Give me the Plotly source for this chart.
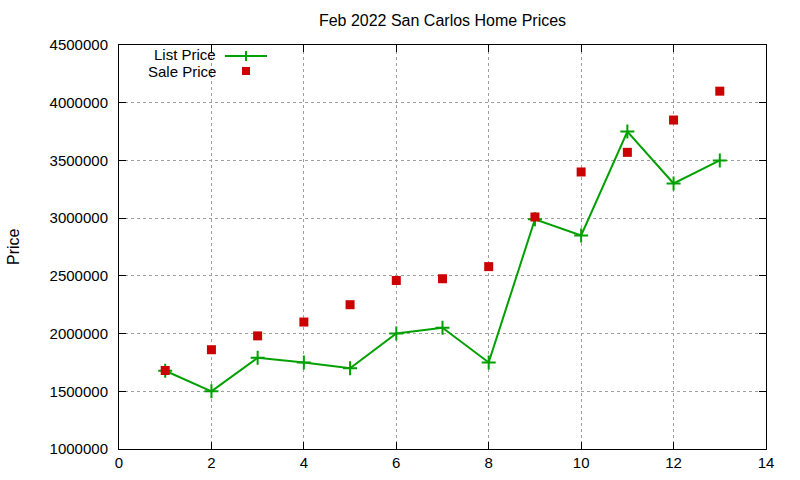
import plotly.graph_objects as go

x_vals = [1, 2, 3, 4, 5, 6, 7, 8, 9, 10, 11, 12, 13]
list_price = [1678000, 1500000, 1790000, 1750000, 1700000, 2000000, 2050000,
              1750000, 2990000, 2850000, 3750000, 3300000, 3500000]
sale_price = [1680000, 1860000, 1980000, 2100000, 2250000, 2460000, 2475000,
              2580000, 3010000, 3400000, 3570000, 3850000, 4100000]
series_names = ["List Price", "Sale Price"]

GREEN = "#00a000"
RED = "#cc0000"
FONT = "Liberation Sans, Arial, sans-serif"

L, R, T, B = 119, 766, 45, 449
PW, PH = R - L, B - T


def px(xp):
    return (xp - L) / PW


def py(yp):
    return (B - yp) / PH


fig = go.Figure()
fig.add_trace(go.Scatter(
    x=x_vals, y=list_price, mode="lines+markers", name=series_names[0],
    line=dict(color=GREEN, width=2),
    marker=dict(symbol="cross-thin", size=10, line=dict(color=GREEN, width=2)),
    showlegend=False))
fig.add_trace(go.Scatter(
    x=x_vals, y=sale_price, mode="markers", name=series_names[1],
    marker=dict(symbol="square", size=9, color=RED),
    showlegend=False))

axis_common = dict(
    showline=True, linecolor="black", linewidth=1, mirror="ticks",
    ticks="inside", ticklen=7, tickcolor="black", automargin=False,
    showgrid=True, gridcolor="#a0a0a0", griddash="dot", gridwidth=1,
    zeroline=False, tickfont=dict(family=FONT, size=15, color="black"),
)
fig.update_xaxes(range=[0, 14], dtick=2, tick0=0, **axis_common)
fig.update_yaxes(range=[1000000, 4500000], dtick=500000, tick0=1000000,
                 tickformat="d", ticklabelstandoff=7, **axis_common)

# gnuplot-style legend: text right-aligned, then sample
shapes = [
    dict(type="line", xref="paper", yref="paper", x0=px(225), x1=px(267),
         y0=py(56), y1=py(56), line=dict(color=GREEN, width=2)),
    dict(type="line", xref="paper", yref="paper", x0=px(246), x1=px(246),
         y0=py(61), y1=py(51), line=dict(color=GREEN, width=2)),
    dict(type="rect", xref="paper", yref="paper", x0=px(242), x1=px(250),
         y0=py(75), y1=py(67), line=dict(width=0), fillcolor=RED),
]
annotations = [
    dict(text=series_names[0], xref="paper", yref="paper", x=px(217),
         y=py(54.5), xanchor="right", yanchor="middle", showarrow=False, borderpad=0,
         font=dict(family=FONT, size=15, color="black")),
    dict(text=series_names[1], xref="paper", yref="paper", x=px(217),
         y=py(71.5), xanchor="right", yanchor="middle", showarrow=False, borderpad=0,
         font=dict(family=FONT, size=15, color="black")),
    dict(text="Price", xref="paper", yref="paper", x=px(13), y=py(247),
         xanchor="center", yanchor="middle", textangle=-90, showarrow=False,
         font=dict(family=FONT, size=16, color="black")),
]

fig.update_layout(
    width=800, height=480, autosize=False,
    margin=dict(l=L, r=800 - R, t=T, b=480 - B, pad=0, autoexpand=False),
    paper_bgcolor="white", plot_bgcolor="white",
    title=dict(text="Feb 2022 San Carlos Home Prices", x=(L + R) / 2 / 800, xanchor="center",
               y=1 - 20 / 480, yanchor="middle",
               font=dict(family=FONT, size=16, color="black")),
    shapes=shapes, annotations=annotations,
)

fig.write_html("out.html", config={"displayModeBar": False},
               post_script="document.body.style.margin='0';")
